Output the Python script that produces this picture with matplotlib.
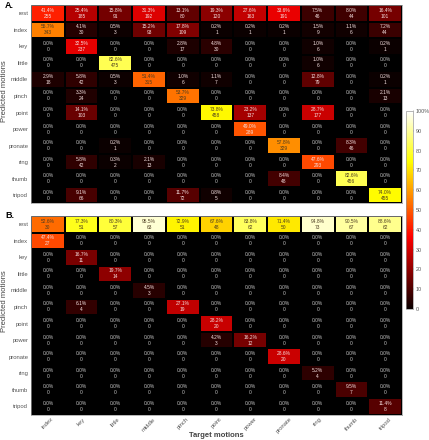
import matplotlib
matplotlib.use("Agg")
import matplotlib.pyplot as plt
import numpy as np

plt.rcParams["font.family"] = ["Liberation Sans", "DejaVu Sans"]

motions = ['index', 'key', 'little', 'middle', 'pinch', 'point', 'power', 'pronate', 'ring', 'thumb', 'tripod']
rows = ['rest'] + motions
cbar_ticks = [0, 10, 20, 30, 40, 50, 60, 70, 80, 90, 100]
cbar_labels = ['0', '10', '20', '30', '40', '50', '60', '70', '80', '90', '100%']

pct_a = [
	[41.4, 25.4, 15.8, 31.3, 13.1, 19.3, 27.6, 33.6, 7.5, 8.0, 16.4],
	[55.7, 4.1, 0.5, 15.2, 17.8, 0.2, 0.2, 0.2, 1.5, 1.1, 7.2],
	[0.0, 32.5, 0.0, 0.0, 2.8, 4.8, 0.0, 0.0, 1.0, 0.0, 0.2],
	[0.0, 0.0, 82.6, 0.0, 0.0, 0.0, 0.0, 0.0, 1.0, 0.0, 0.0],
	[2.9, 5.8, 0.5, 51.4, 1.0, 1.1, 0.0, 0.0, 12.8, 0.0, 0.2],
	[0.0, 3.3, 0.0, 0.0, 53.7, 0.0, 0.0, 0.0, 0.0, 0.0, 2.1],
	[0.0, 14.1, 0.0, 0.0, 0.0, 73.8, 23.2, 0.0, 28.7, 0.0, 0.0],
	[0.0, 0.0, 0.0, 0.0, 0.0, 0.0, 49.0, 0.0, 0.0, 0.0, 0.0],
	[0.0, 0.0, 0.2, 0.0, 0.0, 0.0, 0.0, 57.8, 0.0, 8.3, 0.0],
	[0.0, 5.8, 0.3, 2.1, 0.0, 0.0, 0.0, 0.0, 47.6, 0.0, 0.0],
	[0.0, 0.0, 0.0, 0.0, 0.0, 0.0, 0.0, 8.4, 0.0, 82.6, 0.0],
	[0.0, 9.1, 0.0, 0.0, 11.7, 0.8, 0.0, 0.0, 0.0, 0.0, 74.0],
]
count_a = [
	[255, 185, 91, 192, 80, 120, 163, 191, 46, 44, 101],
	[343, 30, 3, 93, 109, 1, 1, 1, 9, 6, 44],
	[0, 237, 0, 0, 17, 30, 0, 0, 6, 0, 1],
	[0, 0, 475, 0, 0, 0, 0, 0, 6, 0, 0],
	[18, 42, 3, 315, 6, 7, 0, 0, 79, 0, 1],
	[0, 24, 0, 0, 329, 0, 0, 0, 0, 0, 13],
	[0, 103, 0, 0, 0, 458, 137, 0, 177, 0, 0],
	[0, 0, 0, 0, 0, 0, 289, 0, 0, 0, 0],
	[0, 0, 1, 0, 0, 0, 0, 329, 0, 46, 0],
	[0, 42, 2, 13, 0, 0, 0, 0, 293, 0, 0],
	[0, 0, 0, 0, 0, 0, 0, 48, 0, 456, 0],
	[0, 66, 0, 0, 72, 5, 0, 0, 0, 0, 455],
]
pct_b = [
	[52.6, 77.3, 80.3, 95.5, 72.9, 67.6, 83.8, 71.4, 94.8, 90.5, 88.6],
	[47.4, 0.0, 0.0, 0.0, 0.0, 0.0, 0.0, 0.0, 0.0, 0.0, 0.0],
	[0.0, 16.7, 0.0, 0.0, 0.0, 0.0, 0.0, 0.0, 0.0, 0.0, 0.0],
	[0.0, 0.0, 19.7, 0.0, 0.0, 0.0, 0.0, 0.0, 0.0, 0.0, 0.0],
	[0.0, 0.0, 0.0, 4.5, 0.0, 0.0, 0.0, 0.0, 0.0, 0.0, 0.0],
	[0.0, 6.1, 0.0, 0.0, 27.1, 0.0, 0.0, 0.0, 0.0, 0.0, 0.0],
	[0.0, 0.0, 0.0, 0.0, 0.0, 28.2, 0.0, 0.0, 0.0, 0.0, 0.0],
	[0.0, 0.0, 0.0, 0.0, 0.0, 4.2, 16.2, 0.0, 0.0, 0.0, 0.0],
	[0.0, 0.0, 0.0, 0.0, 0.0, 0.0, 0.0, 28.6, 0.0, 0.0, 0.0],
	[0.0, 0.0, 0.0, 0.0, 0.0, 0.0, 0.0, 0.0, 5.2, 0.0, 0.0],
	[0.0, 0.0, 0.0, 0.0, 0.0, 0.0, 0.0, 0.0, 0.0, 9.5, 0.0],
	[0.0, 0.0, 0.0, 0.0, 0.0, 0.0, 0.0, 0.0, 0.0, 0.0, 11.4],
]
count_b = [
	[30, 51, 57, 63, 51, 48, 62, 50, 73, 67, 62],
	[27, 0, 0, 0, 0, 0, 0, 0, 0, 0, 0],
	[0, 11, 0, 0, 0, 0, 0, 0, 0, 0, 0],
	[0, 0, 14, 0, 0, 0, 0, 0, 0, 0, 0],
	[0, 0, 0, 3, 0, 0, 0, 0, 0, 0, 0],
	[0, 4, 0, 0, 19, 0, 0, 0, 0, 0, 0],
	[0, 0, 0, 0, 0, 20, 0, 0, 0, 0, 0],
	[0, 0, 0, 0, 0, 3, 12, 0, 0, 0, 0],
	[0, 0, 0, 0, 0, 0, 0, 20, 0, 0, 0],
	[0, 0, 0, 0, 0, 0, 0, 0, 4, 0, 0],
	[0, 0, 0, 0, 0, 0, 0, 0, 0, 7, 0],
	[0, 0, 0, 0, 0, 0, 0, 0, 0, 0, 8],
]

W, H = 429.0, 440.0
GREY = '#555555'
# zero cells are pure black in the original, hot starts slightly red
cmap = plt.get_cmap('hot').with_extremes(under='#000000')


def box(x0, y0, x1, y1):
	return [x0 / W, 1 - y1 / H, (x1 - x0) / W, (y1 - y0) / H]


def draw_matrix(ax, pct, count, show_x):
	pct = np.array(pct)
	mesh = ax.pcolormesh(pct, cmap=cmap, vmin=0.01, vmax=100, edgecolors='#000000', linewidth=0.15)
	ax.set_ylim(len(rows), 0)
	ax.set_xlim(0, len(motions))
	for i in range(len(rows)):
		for j in range(len(motions)):
			col = '#4a3a20' if pct[i, j] > 50 else ('#f4e0e0' if pct[i, j] > 0 else '#c4c4c4')
			ax.text(j + 0.5, i + 0.5, "%.1f%%\n%d" % (pct[i, j], count[i][j]), ha='center', va='center',
				fontsize=3.5, color=col, linespacing=1.25)
	ax.set_yticks(np.arange(len(rows)) + 0.5)
	ax.set_yticklabels(rows, fontsize=4.2, color=GREY)
	ax.set_xticks(np.arange(len(motions)) + 0.5)
	if show_x:
		ax.set_xticklabels(motions, fontsize=4.2, color=GREY, rotation=45, ha='center')
	else:
		ax.set_xticklabels([])
	ax.tick_params(length=0, pad=2)
	ax.tick_params(axis='x', pad=1.5)
	for s in ax.spines.values():
		s.set_color('#999999')
		s.set_linewidth(0.5)
	return mesh


def main():
	fig = plt.figure(figsize=(4.29, 4.40), dpi=100)
	ax_a = fig.add_axes(box(31, 5, 402, 203.5))
	ax_b = fig.add_axes(box(31, 216, 402, 414.5))
	mesh = draw_matrix(ax_a, pct_a, count_a, False)
	draw_matrix(ax_b, pct_b, count_b, True)

	cax = fig.add_axes(box(405.7, 111, 412.7, 309))
	cb = fig.colorbar(mesh, cax=cax)
	cb.set_ticks([max(t, 0.01) for t in cbar_ticks])
	cb.set_ticklabels(cbar_labels)
	cb.ax.tick_params(labelsize=3.9, length=1, width=0.3, pad=1, colors=GREY)
	cb.outline.set_edgecolor('#999999')
	cb.outline.set_linewidth(0.5)

	fig.text(5 / W, 1 - 5 / H, "A.", fontsize=6.5, fontweight='bold', ha='left', va='center')
	fig.text(5 / W, 1 - 215 / H, "B.", fontsize=6.5, fontweight='bold', ha='left', va='center')
	fig.text(5 / W, 1 - 91 / H, "Predicted motions", fontsize=5.5, color='#444444', rotation=90, ha='center', va='center')
	fig.text(5 / W, 1 - 301 / H, "Predicted motions", fontsize=5.5, color='#444444', rotation=90, ha='center', va='center')
	fig.text(216 / W, 1 - 435 / H, "Target motions", fontsize=5.5, fontweight='bold', color='#444444', ha='center', va='center')

	fig.savefig("out.png", dpi=100)


if __name__ == '__main__':
	main()
